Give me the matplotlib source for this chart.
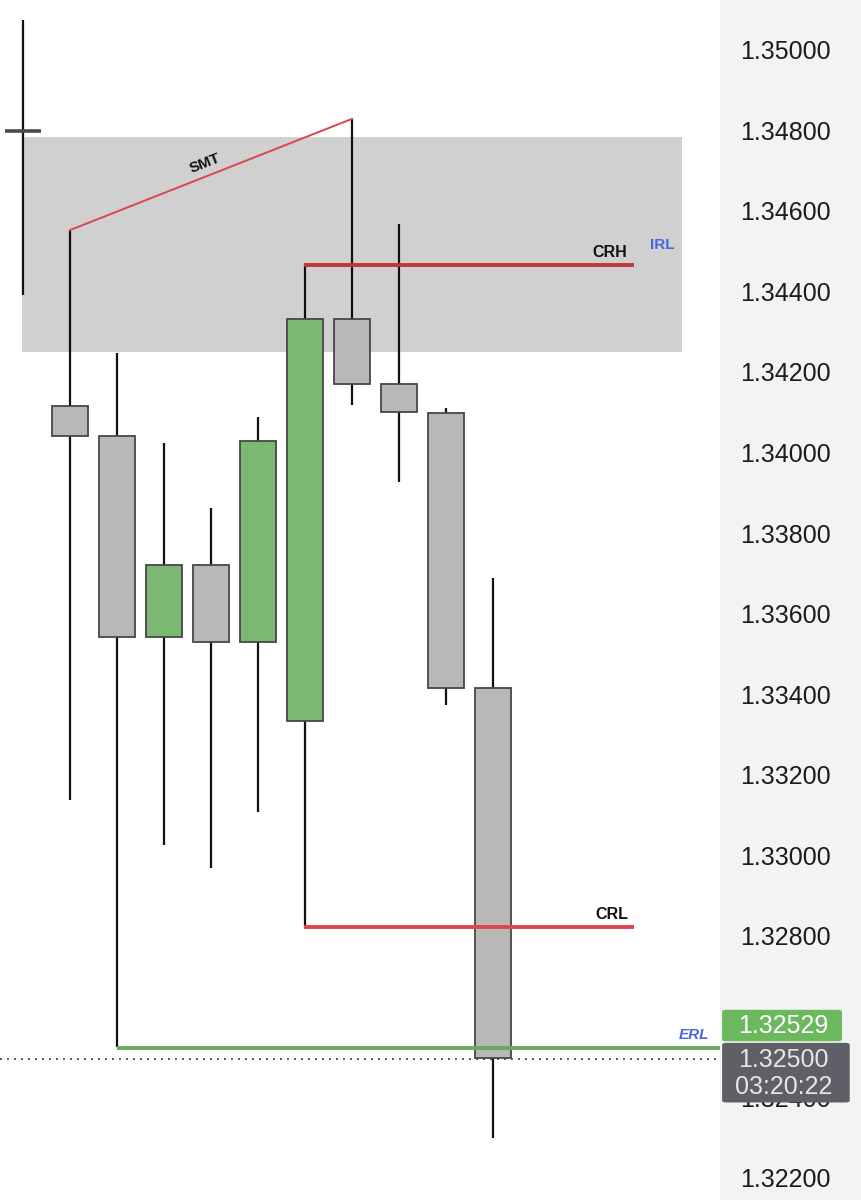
import matplotlib

matplotlib.use("Agg")
import matplotlib.pyplot as plt
from matplotlib.patches import FancyBboxPatch, Rectangle

plt.rcParams["font.family"] = ["Liberation Sans", "DejaVu Sans"]

# OHLC
opens = [1.34804, 1.34122, 1.34047, 1.33548, 1.33727, 1.33536, 1.33340, 1.34337, 1.34176, 1.34104, 1.33422]
highs = [1.35079, 1.34558, 1.34253, 1.34030, 1.33868, 1.34094, 1.34471, 1.34834, 1.34573, 1.34117, 1.33695]
lows = [1.34397, 1.33144, 1.32531, 1.33032, 1.32975, 1.33114, 1.32829, 1.34124, 1.33933, 1.33380, 1.32305]
closes = [1.34804, 1.34047, 1.33548, 1.33727, 1.33536, 1.34035, 1.34337, 1.34176, 1.34107, 1.33422, 1.32504]

zone_low, zone_high = 1.34256, 1.34789
crh_level = 1.34471
crl_level = 1.32829
erl_level = 1.32529
last_price = 1.32529
current_price = 1.32500
countdown = "03:20:22"
price_ticks = [1.35000, 1.34800, 1.34600, 1.34400, 1.34200, 1.34000, 1.33800,
               1.33600, 1.33400, 1.33200, 1.33000, 1.32800, 1.32400, 1.32200]

GREEN = "#7bb872"
GRAY = "#b8b8b8"
YLIM = (1.32151, 1.35129)

fig = plt.figure(figsize=(8.61, 12.0), dpi=100)
ax = fig.add_axes([0, 0, 720 / 861, 1])
panel = fig.add_axes([720 / 861, 0, 141 / 861, 1])

ax.set_xlim(-0.489, 14.83)
ax.set_ylim(*YLIM)
ax.axis("off")

# premium zone
ax.add_patch(Rectangle((-0.02, zone_low), 14.04, zone_high - zone_low,
                       facecolor="#d0d0d0", edgecolor="none", zorder=0))

# candles
w = 0.77
for i, (o, h, l, c) in enumerate(zip(opens, highs, lows, closes)):
    ax.vlines(i, l, h, color="#111111", lw=1.6, zorder=2)
    if abs(c - o) < 1e-5:
        ax.hlines(o, i - 0.39, i + 0.39, color="#4a4a4a", lw=2.6, zorder=3)
        continue
    color = GREEN if c > o else GRAY
    ax.add_patch(Rectangle((i - w / 2, min(o, c)), w, abs(c - o), facecolor=color,
                           edgecolor="#474747", lw=1.3, zorder=3))

# SMT line between candle 1 and candle 7 highs
ax.plot([1, 7], [highs[1], highs[7]], color="#d9474e", lw=1.4, zorder=4)
ax.text(3.87, 1.34724, "SMT", rotation=21.5, ha="center", va="center",
        fontsize=11, fontweight="bold", color="#111111", zorder=5)

# CRH / CRL / ERL
ax.hlines(crh_level, 5.98, 13.0, color="#c0363c", lw=2.8, zorder=4)
ax.text(12.85, crh_level + 0.00012, "CRH", ha="right", va="bottom",
        fontsize=11.5, fontweight="bold", color="#111111")
ax.text(13.34, 1.34521, "IRL", ha="left", va="center",
        fontsize=11, fontweight="bold", color="#4766e0")

ax.hlines(crl_level, 5.98, 13.0, color="#e0444c", lw=2.8, zorder=4)
ax.text(12.88, crl_level + 0.00012, "CRL", ha="right", va="bottom",
        fontsize=11.5, fontweight="bold", color="#111111")

ax.hlines(erl_level, 2.0, 14.83, color="#6aaa5e", lw=2.8, zorder=4)
ax.text(14.6, erl_level + 0.00015, "ERL", ha="right", va="bottom", fontsize=11,
        fontweight="bold", fontstyle="italic", color="#4766e0")

ax.axhline(current_price, color="#555555", lw=1.4, ls=(0, (1, 2.6)), zorder=1)

# price scale panel
panel.set_xlim(0, 1)
panel.set_ylim(*YLIM)
panel.set_facecolor("#f3f3f3")
panel.set_xticks([])
panel.set_yticks([])
for s in panel.spines.values():
    s.set_visible(False)
for t in price_ticks:
    panel.text(0.465, t, f"{t:.5f}", ha="center", va="center", fontsize=18,
               color="#1c1c1c", zorder=1)

panel.add_patch(FancyBboxPatch((0.015, 1.32545), 0.85, 0.00078,
                               boxstyle="round,pad=0,rounding_size=0.03",
                               mutation_aspect=0.0016, facecolor="#6cb85c",
                               edgecolor="none", zorder=3))
panel.text(0.45, 1.32584, f"{last_price:.5f}", ha="center", va="center",
           fontsize=18, color="white", zorder=4)
panel.add_patch(FancyBboxPatch((0.015, 1.32393), 0.905, 0.00148,
                               boxstyle="round,pad=0,rounding_size=0.03",
                               mutation_aspect=0.0016, facecolor="#5e5f67",
                               edgecolor="none", zorder=3))
panel.text(0.45, 1.32499, f"{current_price:.5f}", ha="center", va="center",
           fontsize=18, color="#e6e6e6", zorder=4)
panel.text(0.45, 1.32431, countdown, ha="center", va="center",
           fontsize=18, color="#e6e6e6", zorder=4)

fig.savefig("out.png", dpi=100)
